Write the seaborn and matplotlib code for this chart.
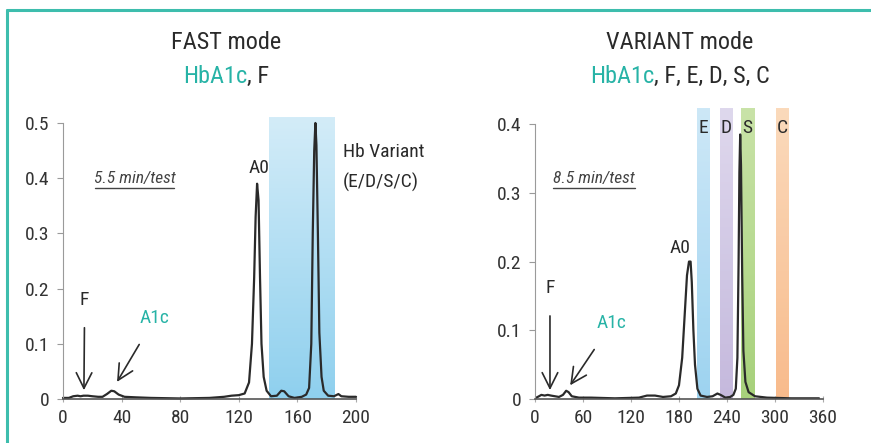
import numpy as np
import pandas as pd
import matplotlib
matplotlib.use("Agg")
import matplotlib.pyplot as plt
from matplotlib import font_manager
from matplotlib.colors import LinearSegmentedColormap
from matplotlib.lines import Line2D
import seaborn as sns

# FAST mode chromatogram (time in s, absorbance)
fast_time = [0, 4, 7, 10, 12, 14, 17, 20, 24, 27, 30, 33, 35, 38, 42, 50, 60, 80, 100,
             110, 115, 120, 124, 127, 129, 130.5, 131.5, 132.5, 133.5, 134.5, 135.5, 137,
             139, 142, 146, 149, 151, 154, 158, 163, 166, 168, 169.5, 170.5, 171.5, 172.3,
             173, 174, 175, 176.5, 178, 181, 185, 188, 190, 195, 200]
fast_abs = [0.002, 0.002, 0.005, 0.006, 0.005, 0.006, 0.006, 0.005, 0.004, 0.004, 0.009,
            0.015, 0.014, 0.008, 0.004, 0.003, 0.002, 0.001, 0.002, 0.004, 0.006, 0.007,
            0.010, 0.030, 0.100, 0.220, 0.330, 0.390, 0.360, 0.220, 0.100, 0.040, 0.015,
            0.005, 0.006, 0.015, 0.014, 0.005, 0.002, 0.004, 0.008, 0.020, 0.100, 0.300,
            0.450, 0.500, 0.460, 0.300, 0.120, 0.040, 0.015, 0.006, 0.005, 0.009, 0.005,
            0.004, 0.004]

# VARIANT mode chromatogram
var_time = [0, 5, 8, 12, 16, 20, 25, 30, 35, 39, 42, 46, 55, 70, 100, 130, 140, 150, 160,
            170, 176, 180, 184, 187, 190, 192.5, 194.5, 196, 198, 200, 203, 207, 215, 222,
            228, 232, 238, 244, 248, 251, 253, 254.5, 255.5, 256.5, 257.5, 259, 260.5, 263,
            267, 275, 290, 320, 355]
var_abs = [0.001, 0.004, 0.006, 0.005, 0.006, 0.005, 0.004, 0.003, 0.006, 0.012, 0.010,
           0.004, 0.002, 0.002, 0.001, 0.002, 0.005, 0.005, 0.003, 0.004, 0.008, 0.020,
           0.060, 0.120, 0.180, 0.200, 0.200, 0.170, 0.100, 0.050, 0.015, 0.005, 0.003,
           0.004, 0.008, 0.006, 0.002, 0.003, 0.006, 0.015, 0.060, 0.200, 0.330, 0.385,
           0.340, 0.180, 0.070, 0.025, 0.010, 0.004, 0.002, 0.001, 0.001]

fast_window = (140.5, 185.0)
variant_labels = ["E", "D", "S", "C"]
variant_windows = [(203, 219), (231, 247), (257.5, 274), (301, 317)]
variant_colors = [("#cbe7f7", "#98d1f0"), ("#ddd6ec", "#c2b6dc"),
                  ("#c6e2a3", "#a3cf74"), ("#fbd8b8", "#f8b886")]

fast_ticks = [0, 40, 80, 120, 160, 200]
var_ticks = [0, 60, 120, 180, 240, 300, 360]
fast_yticks = [0, 0.1, 0.2, 0.3, 0.4, 0.5]
var_yticks = [0, 0.1, 0.2, 0.3, 0.4]

TEAL = "#27b3a6"
INK = "#2a2a2a"

sns.set_style("white")

# the original uses a narrow humanist face; pick the narrowest one installed
names = {f.name for f in font_manager.fontManager.ttflist}
narrow = [n for n in ["Liberation Sans Narrow", "Roboto Condensed", "Open Sans Condensed",
                      "Noto Sans Condensed", "DejaVu Sans Condensed"] if n in names]
narrow += sorted(n for n in names if ("Condensed" in n or "Narrow" in n) and n not in narrow)
condensed_dejavu = any(f.name == "DejaVu Sans" and "condensed" in str(f.stretch)
                       for f in font_manager.fontManager.ttflist)
if narrow:
    plt.rcParams["font.family"] = [narrow[0], "DejaVu Sans"]
    BASE = 1.0
elif condensed_dejavu:
    plt.rcParams["font.family"] = ["DejaVu Sans"]
    plt.rcParams["font.stretch"] = "condensed"
    BASE = 0.92
else:
    plt.rcParams["font.family"] = ["Roboto", "DejaVu Sans"]
    BASE = 0.85

fig = plt.figure(figsize=(8.71, 4.43), dpi=100)
fig.patch.set_facecolor("white")
ax1 = fig.add_axes([0.0723, 0.0993, 0.3364, 0.648])
ax2 = fig.add_axes([0.6142, 0.0993, 0.3307, 0.667])

FS = 14 * BASE
TS = 17.5 * BASE
NS = 12.5 * BASE


def gradient_band(ax, x0, x1, top, c_top, c_bot, alpha=1.0):
    cmap = LinearSegmentedColormap.from_list("band", [c_bot, c_top])
    grad = np.linspace(0, 1, 100).reshape(-1, 1)
    ax.imshow(grad, cmap=cmap, extent=(x0, x1, 0, top), origin="lower",
              aspect="auto", zorder=0, alpha=alpha)


def style_axis(ax, xticks, yticks, xmax, ymax):
    ax.set_xlim(0, xmax)
    ax.set_ylim(0, ymax)
    ax.set_xticks(xticks)
    ax.set_yticks(yticks)
    ax.set_yticklabels(["0" if v == 0 else f"{v:.1f}" for v in yticks])
    for s in ["top", "right"]:
        ax.spines[s].set_visible(False)
    ax.spines["left"].set_color("#9a9a9a")
    ax.spines["left"].set_bounds(0, yticks[-1])
    ax.spines["bottom"].set_color("#555555")
    ax.spines["bottom"].set_linewidth(1.2)
    ax.tick_params(axis="y", length=4, color="#9a9a9a", labelsize=FS,
                   labelcolor="#333333", pad=6, left=True)
    ax.tick_params(axis="x", length=4, direction="inout", color="#aaaaaa",
                   labelsize=FS, labelcolor="#333333", pad=5, bottom=True)
    ax.set_xlabel("")
    ax.set_ylabel("")
    ax.patch.set_alpha(0)


ARROW = dict(arrowstyle="->,head_length=0.8,head_width=0.4", color=INK, lw=1.2)

# left panel
gradient_band(ax1, fast_window[0], fast_window[1], 0.51, "#d3ecf8", "#8fd0ee")
sns.lineplot(x=fast_time, y=fast_abs, ax=ax1, color=INK, linewidth=1.6,
             estimator=None, sort=False)
ax1.lines[-1].set_clip_on(False)
style_axis(ax1, fast_ticks, fast_yticks, 200, 0.52)

ax1.text(133.8, 0.418, "A0", ha="center", va="center", fontsize=FS, color=INK)
ax1.text(191, 0.447, "Hb Variant", ha="left", va="center", fontsize=FS, color=INK)
ax1.text(191, 0.393, "(E/D/S/C)", ha="left", va="center", fontsize=FS, color=INK)
ax1.text(49, 0.40, "5.5 min/test", ha="center", va="center", fontsize=NS,
         style="italic", color="#444444")
ax1.plot([22, 76], [0.382, 0.382], color="#444444", lw=1)
ax1.annotate("F", xy=(14.3, 0.016), xytext=(14.8, 0.179), ha="center", va="center",
             fontsize=FS, color=INK, arrowprops=dict(ARROW, shrinkA=11, shrinkB=0))
ax1.annotate("A1c", xy=(36.9, 0.031), xytext=(62.8, 0.147), ha="center", va="center",
             fontsize=FS, color=TEAL, arrowprops=dict(ARROW, shrinkA=12, shrinkB=0))

# right panel
for (x0, x1), (ct, cb) in zip(variant_windows, variant_colors):
    gradient_band(ax2, x0, x1, 0.423, ct, cb, alpha=0.95)
sns.lineplot(x=var_time, y=var_abs, ax=ax2, color=INK, linewidth=1.6,
             estimator=None, sort=False)
style_axis(ax2, var_ticks, var_yticks, 360, 0.43)
for lab, (x0, x1) in zip(variant_labels, variant_windows):
    ax2.text((x0 + x1) / 2, 0.394, lab, ha="center", va="center", fontsize=FS, color=INK)

ax2.text(181, 0.22, "A0", ha="center", va="center", fontsize=FS, color=INK)
ax2.text(74, 0.321, "8.5 min/test", ha="center", va="center", fontsize=NS,
         style="italic", color="#444444")
ax2.plot([23, 125], [0.307, 0.307], color="#444444", lw=1)
ax2.annotate("F", xy=(18.75, 0.013), xytext=(18.75, 0.161), ha="center", va="center",
             fontsize=FS, color=INK, arrowprops=dict(ARROW, shrinkA=11, shrinkB=0))
ax2.annotate("A1c", xy=(44, 0.02), xytext=(96, 0.11), ha="center", va="center",
             fontsize=FS, color=TEAL, arrowprops=dict(ARROW, shrinkA=12, shrinkB=0))

# titles with a coloured first word
renderer = fig.canvas.get_renderer()


def two_tone(xc, y, first, rest, size):
    probe = fig.text(0, 0, first + rest, fontsize=size)
    w_all = probe.get_window_extent(renderer).width
    probe.remove()
    probe = fig.text(0, 0, first, fontsize=size)
    w_first = probe.get_window_extent(renderer).width
    probe.remove()
    x_left = xc - w_all / 2 / fig.bbox.width
    fig.text(x_left, y, first, fontsize=size, color=TEAL, ha="left", va="center")
    fig.text(x_left + w_first / fig.bbox.width, y, rest, fontsize=size, color=INK,
             ha="left", va="center")


fig.text(226 / 871, 0.905, "FAST mode", ha="center", va="center", fontsize=TS, color=INK)
two_tone(226 / 871, 0.828, "HbA1c", ", F", TS)
fig.text(680 / 871, 0.905, "VARIANT mode", ha="center", va="center", fontsize=TS, color=INK)
two_tone(680 / 871, 0.828, "HbA1c", ", F, E, D, S, C", TS)

# teal frame
fig.add_artist(Line2D([7 / 871, 7 / 871], [0, 1 - 10 / 443], color="#3dbdad", lw=2.2,
                      transform=fig.transFigure))
fig.add_artist(Line2D([7 / 871, 1], [1 - 10 / 443, 1 - 10 / 443], color="#3dbdad", lw=2.2,
                      transform=fig.transFigure))

fig.savefig("out.png", dpi=100)
